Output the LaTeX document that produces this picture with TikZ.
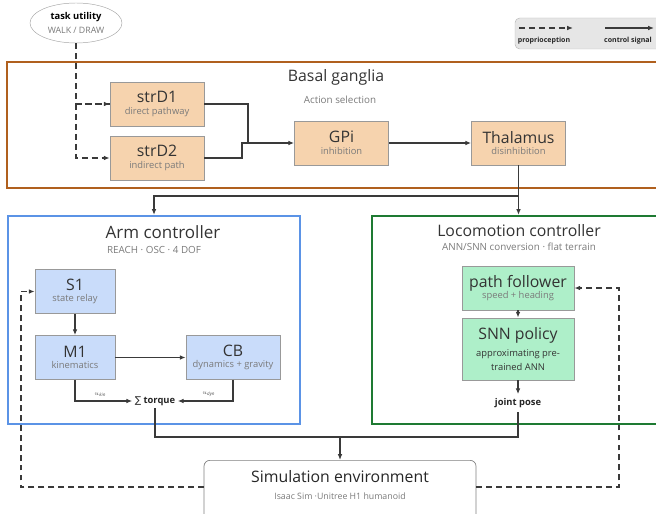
\documentclass[tikz,border=0pt]{standalone}
\usepackage{fontspec}
\setmainfont{Open Sans}
\newfontfamily\symfont{DejaVu Sans}
\usetikzlibrary{arrows.meta,shapes.geometric,positioning}

\definecolor{lnc}{HTML}{3A3A3A}
\definecolor{subc}{HTML}{7A7A7A}
\definecolor{bgbrown}{HTML}{B0601E}
\definecolor{peach}{HTML}{F6D3AE}
\definecolor{armblue}{HTML}{5B93E6}
\definecolor{lblue}{HTML}{C9DCFA}
\definecolor{locgreen}{HTML}{1E7A32}
\definecolor{lgreen}{HTML}{AEEFC9}
\definecolor{leggray}{HTML}{E6E6E6}

\tikzset{
  ctl/.style={draw=lnc, line width=1pt, -{Latex[length=5pt,width=4pt]}},
  ctlline/.style={draw=lnc, line width=1pt},
  prop/.style={ctl, dash pattern=on 5pt off 3.5pt},
  propline/.style={ctlline, dash pattern=on 5pt off 3.5pt},
  blk/.style={draw=gray!80, line width=0.6pt, align=center, inner sep=1pt, text=black!80},
  bgblk/.style={blk, fill=peach, minimum width=2.82cm, minimum height=1.32cm},
  armblk/.style={blk, fill=lblue, minimum height=1.32cm},
  locblk/.style={blk, fill=lgreen, minimum width=3.36cm},
  frame/.style={draw, line width=1.8pt},
  ftitle/.style={font=\fontsize{13.5}{15}\selectfont, text=black!80},
  fsub/.style={font=\fontsize{8.4}{10}\selectfont, text=subc},
  tag/.style={font=\fontsize{8}{9}\selectfont\bfseries, text=black!85},
  ulabel/.style={font=\fontsize{5.5}{6}\selectfont, text=black!70},
  legtxt/.style={font=\fontsize{6}{7}\selectfont\bfseries, text=black!85},
}
\newcommand{\blktxt}[2]{{\fontsize{13.5}{15}\selectfont #1}\\[-2pt]{\fontsize{8}{9.5}\selectfont\color{subc}#2}}

\begin{document}
\begin{tikzpicture}[x=0.03cm,y=-0.03cm]
\useasboundingbox (0,0) rectangle (656,514);

% legend
\node[draw=gray!55, fill=leggray, rounded corners=4pt, minimum width=4.41cm, minimum height=0.93cm] (leg) at (588.5,33.5) {};
\coordinate (lpa) at (519,28); \coordinate (lpb) at (573,28);
\coordinate (lca) at (605,28); \coordinate (lcb) at (654,28);
\draw[prop] (lpa) -- (lpb);
\draw[ctl] (lca) -- (lcb);
\node[legtxt] (lpt) at (544,41) {proprioception};
\node[legtxt] (lct) at (628,41) {control signal};

% task utility
\node[ellipse, draw=gray!70, fill=white, minimum width=2.76cm, minimum height=1.2cm, align=center, inner sep=0pt] (task) at (76,23)
  {{\fontsize{8}{9.5}\selectfont\bfseries task utility}\\{\fontsize{7.5}{9}\selectfont\color{subc}WALK / DRAW}};

% basal ganglia
\node[frame, draw=bgbrown, minimum width=19.65cm, minimum height=3.78cm] (bg) at (334.5,125) {};
\node[ftitle] (bgt) at (336,77) {Basal ganglia};
\node[fsub] (bgs) at (340,100) {Action selection};
\node[bgblk] (strD1) at (157,104) {\blktxt{strD1}{direct pathway}};
\node[bgblk] (strD2) at (157,158) {\blktxt{strD2}{indirect path}};
\node[bgblk] (GPi) at (341.5,143) {\blktxt{GPi}{inhibition}};
\node[bgblk] (thal) at (518.5,143) {\blktxt{Thalamus}{disinhibition}};

\coordinate (jn) at (248,143);
\draw[ctl] (strD1.east) -| (jn) -- (GPi.west);
\draw[ctlline] (strD2.east) -| (242,143) -- (jn);
\draw[ctl] (GPi) -- (thal);
\draw[propline] (task.south) |- (strD1.west);
\draw[prop] (task.south |- strD1.west) -- (strD1.west);
\draw[prop] (task.south |- strD1.west) |- (strD2.west);

% arm controller
\node[frame, draw=armblue, minimum width=8.76cm, minimum height=6.24cm] (arm) at (154,320) {};
\node[ftitle, font=\fontsize{14.5}{16}\selectfont] (armt) at (163,232) {Arm controller};
\node[fsub] (arms) at (154,250) {REACH · OSC · 4 DOF};
\node[armblk, minimum width=2.4cm] (S1) at (75,291.5) {\blktxt{S1}{state relay}};
\node[armblk, minimum width=2.4cm] (M1) at (75,357.5) {\blktxt{M1}{kinematics}};
\node[armblk, minimum width=2.82cm] (CB) at (233,357.5) {\blktxt{CB}{dynamics + gravity}};
\node[tag, inner sep=2pt] (tq) at (155,401) {{\symfont\mdseries ∑} torque};
\draw[ctl] (S1) -- (M1);
\draw[ctl] (M1) -- (CB);
\draw[ctl] (M1.south) |- (tq.west) node[pos=0.72, above, ulabel] {$u_{\mathit{kin}}$};
\draw[ctl] (CB.south) |- (tq.east) node[pos=0.72, above, ulabel] {$u_{\mathit{dyn}}$};

% locomotion controller
\node[frame, draw=locgreen, minimum width=8.7cm, minimum height=6.24cm] (loco) at (517,320) {};
\node[ftitle] (locot) at (519,231) {Locomotion controller};
\node[fsub] (locos) at (519,247) {ANN/SNN conversion · flat terrain};
\node[locblk, minimum height=1.32cm] (pf) at (518,288) {\blktxt{path follower}{speed + heading}};
\node[locblk, minimum height=1.86cm] (snn) at (518,349)
  {{\fontsize{13.5}{15}\selectfont SNN policy}\\[3pt]{\fontsize{8}{11}\selectfont approximating pre-}\\{\fontsize{8}{11}\selectfont trained ANN}};
\node[tag] (jp) at (518,403) {joint pose};
\draw[ctl] (pf) -- (snn);
\draw[ctl] (snn) -- (jp);

% thalamus to controllers
\coordinate (br) at (518.5,196);
\draw[ctl] (thal.south) -- (thal.south |- loco.north);
\draw[ctl] (br) -| (arm.north);

% simulation
\node[draw=gray, line width=0.6pt, rounded corners=5pt, minimum width=8.16cm, minimum height=1.95cm, anchor=north] (sim) at (340,460) {};
\node[font=\fontsize{13.5}{15}\selectfont, text=black!85] (simt) at (340,477) {Simulation environment};
\node[fsub, font=\fontsize{7.5}{9}\selectfont] (sims) at (340,496) {Isaac Sim ·Unitree H1 humanoid};
\coordinate (mg) at (340,437);
\draw[ctlline] (tq.south) |- (mg) -| (jp.south);
\draw[ctl] (mg) -- (sim.north);

% proprioception feedback
\coordinate (fl) at (21,487);
\coordinate (fr) at (619,487);
\draw[prop] (sim.west |- fl) -- (fl) |- (S1.west);
\draw[prop] (sim.east |- fr) -- (fr) |- (pf.east);
\end{tikzpicture}
\end{document}
